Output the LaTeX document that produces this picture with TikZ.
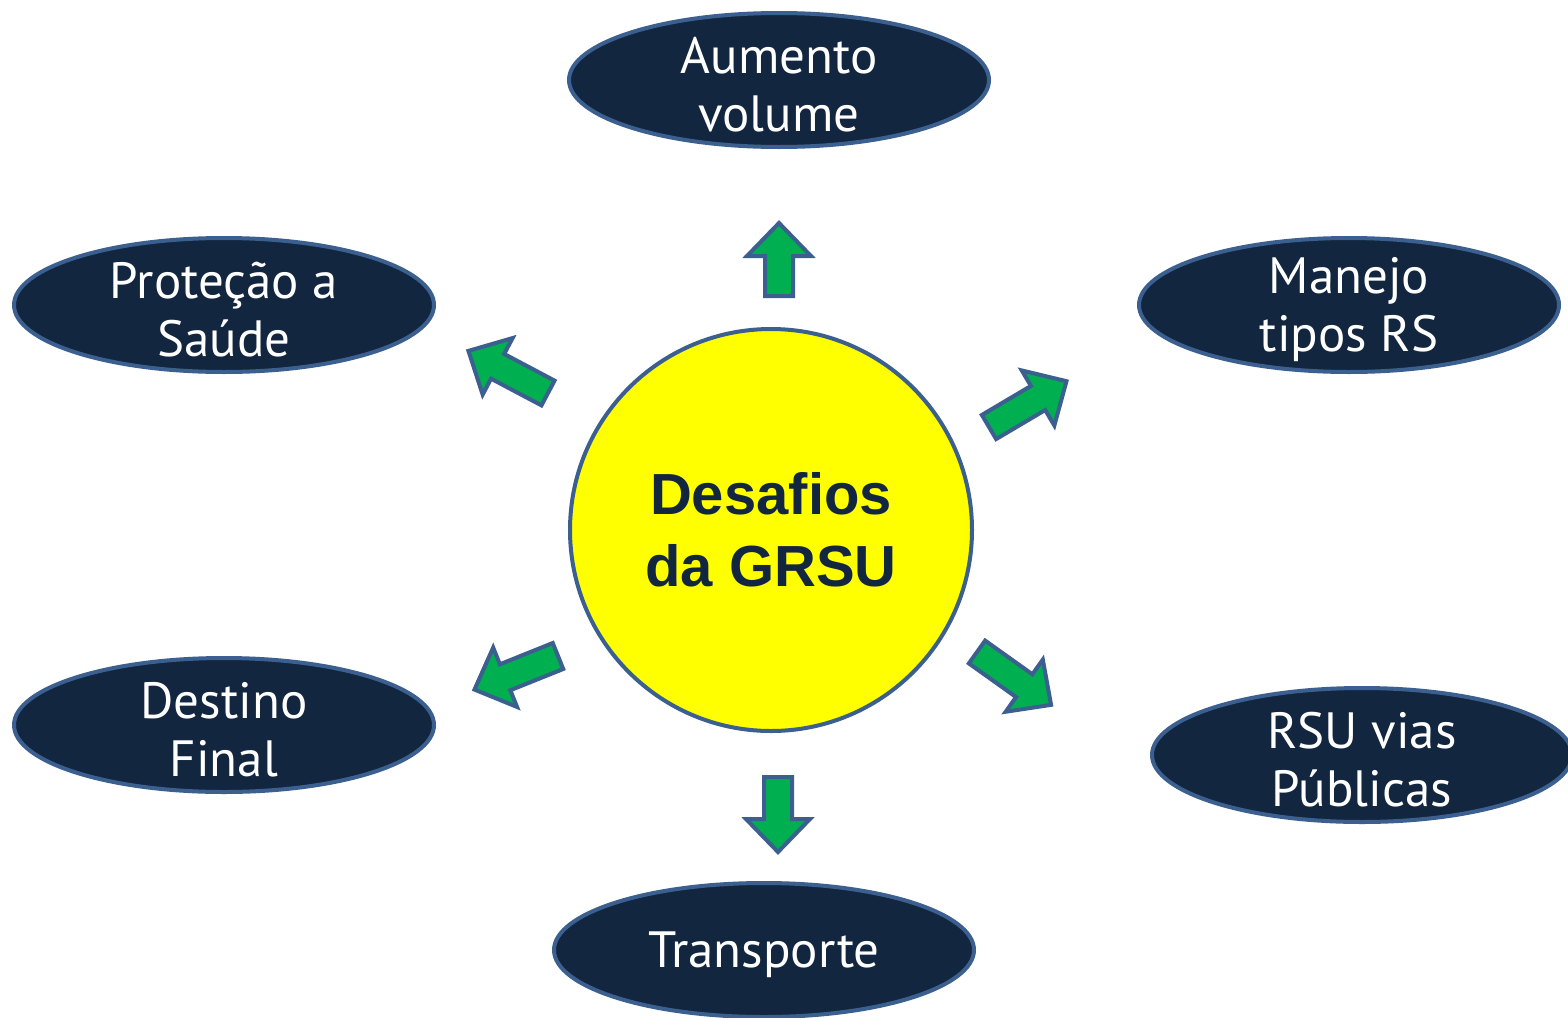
\documentclass[tikz,border=0pt]{standalone}
\usepackage{fontspec}
\setmainfont{PT Sans}
\newfontfamily\hubfont{Liberation Sans}
\usetikzlibrary{shapes.geometric}
\definecolor{navy}{HTML}{12263F}
\definecolor{rim}{HTML}{3B5F8F}
\definecolor{agreen}{HTML}{00B050}
\definecolor{sun}{HTML}{FFFF00}
\newcommand\greenarrow[4]{\draw[garrow, shift={(#1,#2)}, rotate=#3] (0,14) -- ({#4-33},14) -- ({#4-33},32) -- (#4,0) -- ({#4-33},-32) -- ({#4-33},-14) -- (0,-14) -- cycle;}
\begin{document}
\begin{tikzpicture}[x=0.5pt,y=-0.5pt,
 topic/.style={ellipse, draw=rim, line width=2pt, fill=navy, minimum width=210pt, minimum height=67pt, inner sep=0pt},
 lbl/.style={text=white, align=center, inner sep=0pt, yshift=-2.5pt, font=\fontsize{25.5}{29}\selectfont},
 hub/.style={circle, draw=rim, line width=2pt, fill=sun, minimum size=201pt, inner sep=0pt, align=center, text=navy, font=\hubfont\bfseries\fontsize{29}{36}\selectfont},
 garrow/.style={draw=rim, fill=agreen, line width=2pt, line join=miter}]
\useasboundingbox (0,0) rectangle (1568,1017);
\fill[white] (0,0) rectangle (1568,1017);
\node[hub] (hub) at (771,530) {Desafios\\da GRSU};
\node[topic, label={[lbl]center:{Aumento\\volume}}] (aumento) at (779,80) {};
\node[topic, label={[lbl]center:{Proteção a\\Saúde}}] (protecao) at (224,305) {};
\node[topic, label={[lbl]center:{Manejo\\tipos RS}}] (manejo) at (1349,305) {};
\node[topic, label={[lbl]center:{Destino\\Final}}] (destino) at (224,725) {};
\node[topic, label={[lbl]center:{RSU vias\\Públicas}}] (rsu) at (1362,755) {};
\node[topic, label={[lbl]center:{Transporte}}] (transporte) at (764,950) {};
\greenarrow{779}{296}{90}{73}
\greenarrow{778}{777}{-90}{75}
\greenarrow{989}{427}{30.6}{90}
\greenarrow{548}{393}{152.1}{90}
\greenarrow{558}{656}{201.9}{90}
\greenarrow{977}{652}{-35.5}{91}
\end{tikzpicture}
\end{document}
